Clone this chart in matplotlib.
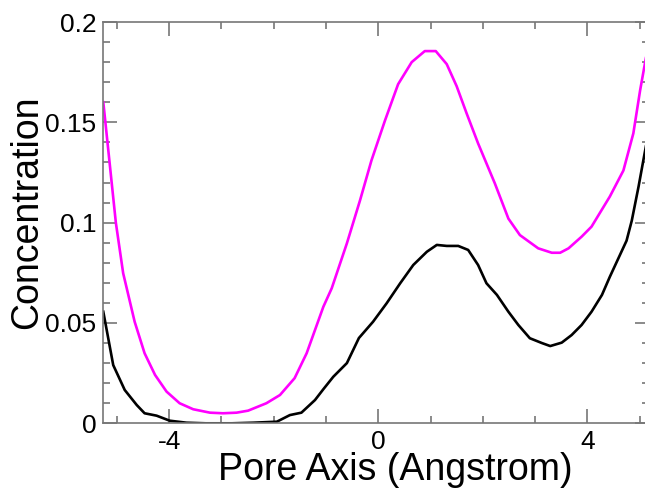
import matplotlib
matplotlib.use("Agg")
import matplotlib.pyplot as plt
from matplotlib.ticker import MultipleLocator

# Magenta curve
mag_x = [-5.26, -5.02, -4.88, -4.66, -4.47, -4.27, -4.05, -3.80, -3.54, -3.22, -2.97,
         -2.71, -2.49, -2.14, -1.88, -1.60, -1.37, -1.21, -1.05, -0.89, -0.60, -0.35, -0.13,
         0.13, 0.38, 0.64, 0.89, 1.10, 1.31, 1.50, 1.69, 1.91, 2.23, 2.49, 2.71, 3.06,
         3.32, 3.48, 3.64, 3.89, 4.08, 4.43, 4.69, 4.88, 5.01, 5.12]
mag_y = [0.160, 0.100, 0.0748, 0.0506, 0.0349, 0.0241, 0.0158, 0.0100, 0.0070, 0.0053, 0.0050,
         0.0053, 0.0063, 0.0100, 0.0141, 0.0225, 0.0349, 0.0465, 0.0581, 0.0673, 0.0897, 0.111, 0.131,
         0.151, 0.169, 0.180, 0.1855, 0.1855, 0.179, 0.168, 0.1545, 0.1395, 0.1196, 0.102, 0.0938, 0.0872,
         0.085, 0.085, 0.0872, 0.093, 0.098, 0.113, 0.126, 0.1445, 0.166, 0.182]

# Black curve
blk_x = [-5.26, -5.07, -4.85, -4.62, -4.47, -4.24, -3.99, -3.67, -3.3, -2.8, -2.39, -1.94,
         -1.69, -1.47, -1.21, -1.05, -0.86, -0.60, -0.37, -0.10, 0.16, 0.42, 0.67, 0.93,
         1.12, 1.31, 1.53, 1.72, 1.91, 2.07, 2.27, 2.49, 2.68, 2.90, 3.13, 3.29, 3.51, 3.70,
         3.89, 4.08, 4.28, 4.43, 4.59, 4.75, 4.85, 4.98, 5.12]
blk_y = [0.0556, 0.029, 0.0166, 0.0091, 0.0050, 0.0038, 0.0013, 0.0003, 0.0, 0.0, 0.0003, 0.0008,
         0.0041, 0.0053, 0.0116, 0.0170, 0.0232, 0.0300, 0.0425, 0.0506, 0.0598, 0.0698, 0.0789, 0.0855,
         0.0889, 0.0884, 0.0884, 0.0864, 0.0789, 0.0698, 0.0640, 0.0556, 0.0490, 0.0424, 0.0400, 0.0385, 0.0402, 0.0440,
         0.0490, 0.0556, 0.0640, 0.0730, 0.0820, 0.0910, 0.101, 0.118, 0.138]

x_label = "Pore Axis (Angstrom)"
y_label = "Concentration"

plt.rcParams['font.family'] = ['Liberation Sans', 'DejaVu Sans']

fig = plt.figure(figsize=(6.45, 4.88), dpi=100)
W, H = 645, 488
ax = fig.add_axes([103.3 / W, (H - 423.3) / H, (648.5 - 103.3) / W, (423.3 - 22) / H])

ax.plot(mag_x, mag_y, color='#ff00ff', lw=1.9)
ax.plot(blk_x, blk_y, color='black', lw=1.9)

ax.set_xlim(-5.26, 5.17)
ax.set_ylim(0, 0.2)

ax.xaxis.set_minor_locator(MultipleLocator(1))
ax.yaxis.set_minor_locator(MultipleLocator(0.01))
ax.set_xticks([-4, 0, 4])
ax.set_xticklabels(['-4', '0', '4'])
ax.set_yticks([0, 0.05, 0.1, 0.15, 0.2])
ax.set_yticklabels(['0', '0.05', '0.1', '0.15', '0.2'])

spine_col = '#777777'
for s in ax.spines.values():
    s.set_color(spine_col)
    s.set_linewidth(1.2)
ax.tick_params(which='both', direction='in', top=True, right=True, color=spine_col, width=1.2)
ax.tick_params(which='major', length=10, labelsize=19, pad=5)
ax.tick_params(which='minor', length=5)

ax.set_xlabel(x_label, fontsize=27)
ax.set_ylabel(y_label, fontsize=27)
ax.xaxis.label.set_va('baseline')
ax.xaxis.set_label_coords((395 - 103.3) / 545.2, (423.3 - 480) / 401.3)
ax.yaxis.set_label_coords((45 - 103.3) / 545.2, (423.3 - 212.5) / 401.3)

fig.savefig("out.png", dpi=100)
